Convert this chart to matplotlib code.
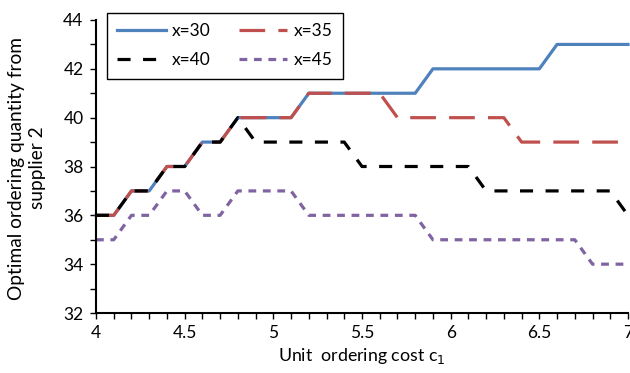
import matplotlib
matplotlib.use("Agg")
import matplotlib.pyplot as plt
from matplotlib.ticker import MultipleLocator

plt.rcParams['font.family'] = ['Lato', 'DejaVu Sans']
plt.rcParams['lines.scale_dashes'] = False

# unit ordering cost c1
cost = [4.0, 4.1, 4.2, 4.3, 4.4, 4.5, 4.6, 4.7, 4.8, 4.9,
        5.0, 5.1, 5.2, 5.3, 5.4, 5.5, 5.6, 5.7, 5.8, 5.9,
        6.0, 6.1, 6.2, 6.3, 6.4, 6.5, 6.6, 6.7, 6.8, 6.9, 7.0]

q_x30 = [36, 36, 37, 37, 38, 38, 39, 39, 40, 40,
         40, 40, 41, 41, 41, 41, 41, 41, 41, 42,
         42, 42, 42, 42, 42, 42, 43, 43, 43, 43, 43]
q_x35 = [36, 36, 37, 37, 38, 38, 39, 39, 40, 40,
         40, 40, 41, 41, 41, 41, 41, 40, 40, 40,
         40, 40, 40, 40, 39, 39, 39, 39, 39, 39, 39]
q_x40 = [36, 36, 37, 37, 38, 38, 39, 39, 40, 39,
         39, 39, 39, 39, 39, 38, 38, 38, 38, 38,
         38, 38, 37, 37, 37, 37, 37, 37, 37, 37, 36]
q_x45 = [35, 35, 36, 36, 37, 37, 36, 36, 37, 37,
         37, 37, 36, 36, 36, 36, 36, 36, 36, 35,
         35, 35, 35, 35, 35, 35, 35, 35, 34, 34, 34]

labels = ["x=30", "x=35", "x=40", "x=45"]
ytitle = ["Optimal ordering quantity from", "supplier 2"]

fig = plt.figure(figsize=(6.3, 3.73), dpi=100)
ax = fig.add_axes([96/630, 1 - 313/373, 532/630, 293/373])

lw = 2.3
l30, = ax.plot(cost, q_x30, color="#4F81BD", lw=lw, label=labels[0], clip_on=False)
l35, = ax.plot(cost, q_x35, color="#C0504D", lw=lw, label=labels[1], clip_on=False,
               linestyle=(0, (18.5, 9.5)))
l40, = ax.plot(cost, q_x40, color="black", lw=lw, label=labels[2], clip_on=False,
               linestyle=(0, (9.4, 9.0)))
l45, = ax.plot(cost, q_x45, color="#8064A2", lw=lw, label=labels[3], clip_on=False,
               linestyle=(0, (5.6, 4.8)))

ax.set_xlim(4, 7)
ax.set_ylim(32, 44)
ax.xaxis.set_major_locator(MultipleLocator(0.5))
ax.xaxis.set_minor_locator(MultipleLocator(0.1))
ax.yaxis.set_major_locator(MultipleLocator(2))
ax.yaxis.set_minor_locator(MultipleLocator(1))
ax.xaxis.set_major_formatter(plt.FuncFormatter(lambda v, p: f"{v:g}"))

for s in ["top", "right"]:
    ax.spines[s].set_visible(False)
for s in ["left", "bottom"]:
    ax.spines[s].set_linewidth(1.5)
ax.tick_params(which="both", direction="out", length=4, width=1, labelsize=12.5)
ax.tick_params(axis="x", which="major", pad=5)
ax.tick_params(axis="y", which="major", pad=5)

ax.set_xlabel("Unit  ordering cost c$_1$", fontsize=12.8, labelpad=3)
# y title in two centred lines
fig.text(17/630, 1 - 168/373, ytitle[0], rotation=90, ha="center", va="center",
         fontsize=13.8)
fig.text(38/630, 1 - 168/373, ytitle[1], rotation=90, ha="center", va="center",
         fontsize=13.8)

# row-wise legend order: x=30, x=35 / x=40, x=45
leg = ax.legend([l30, l40, l35, l45], [labels[0], labels[2], labels[1], labels[3]],
                ncol=2, loc="upper left", bbox_to_anchor=(107/630, 1 - 13/373),
                bbox_transform=fig.transFigure, borderaxespad=0, fontsize=12.5,
                handlelength=2.8, columnspacing=1.6, labelspacing=0.75,
                handletextpad=0.35, fancybox=False, framealpha=1,
                edgecolor="black", borderpad=0.6, handleheight=0.7)
leg.get_frame().set_linewidth(1)

fig.savefig("out.png", dpi=100)
